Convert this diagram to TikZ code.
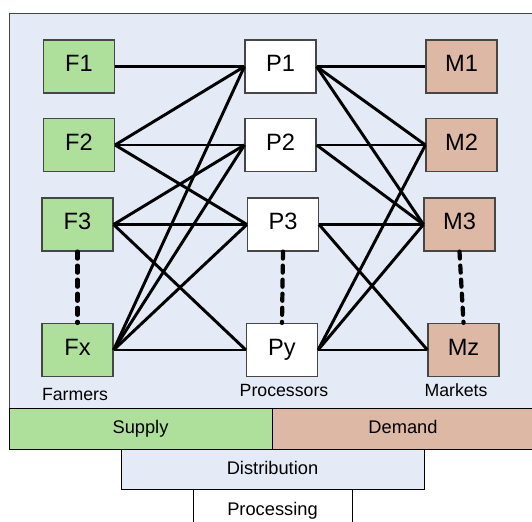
\documentclass[tikz,border=0pt]{standalone}
\usepackage{fontspec}
\setmainfont{Liberation Sans}
\definecolor{bgblue}{RGB}{228,235,247}
\definecolor{farmgreen}{RGB}{174,224,156}
\definecolor{marketbrown}{RGB}{221,184,164}
\definecolor{edgegray}{RGB}{70,70,70}
\tikzset{
  unit/.style={draw=edgegray,line width=0.8pt,minimum width=1.775cm,minimum height=1.325cm,
    inner sep=0pt,text height=0.72em,text depth=0pt,font=\fontsize{16.8}{20}\selectfont},
  farmer/.style={unit,fill=farmgreen},
  processor/.style={unit,fill=white},
  market/.style={unit,fill=marketbrown},
  bar/.style={draw=black,line width=0.6pt,inner sep=0pt,outer sep=0pt,
    text height=0.72em,text depth=0pt,font=\fontsize{13}{15}\selectfont},
  link/.style={line width=2.1pt},
  gap/.style={line width=3pt,dash pattern=on 5pt off 5pt,line cap=round},
  group/.style={font=\fontsize{12.6}{15}\selectfont}
}
\begin{document}
\begin{tikzpicture}
\useasboundingbox (0,0) rectangle (13.3,13.05);
% frame and bars
\fill[bgblue,draw=edgegray,line width=0.6pt] (0.225,2.85) rectangle (13.32,12.725);
\node[bar,fill=white,minimum width=3.975cm,minimum height=1.3cm] (processing) at (6.8125,0.175) {};
\node[bar,fill=bgblue,minimum width=7.575cm,minimum height=1cm] (distribution) at (6.8125,1.325) {Distribution};
\node[bar,fill=farmgreen,minimum width=6.575cm,minimum height=1.025cm] (supply) at (3.5125,2.3375) {Supply};
\node[bar,fill=marketbrown,minimum width=6.55cm,minimum height=1.025cm] (demand) at (10.075,2.3375) {Demand};
\node[font=\fontsize{13}{15}\selectfont] (proclabel) at (6.8125,0.27) {Processing};

% farmers
\node[farmer] (F1) at (1.975,11.3875) {F1};
\node[farmer] (F2) at (1.975,9.425) {F2};
\node[farmer] (F3) at (1.9375,7.4375) {F3};
\node[farmer] (Fx) at (1.9375,4.3) {Fx};
% processors
\node[processor] (P1) at (7.0125,11.3875) {P1};
\node[processor] (P2) at (7.0125,9.425) {P2};
\node[processor] (P3) at (7.075,7.4375) {P3};
\node[processor] (Py) at (7.05,4.3) {Py};
% markets
\node[market] (M1) at (11.5375,11.3875) {M1};
\node[market] (M2) at (11.5375,9.425) {M2};
\node[market] (M3) at (11.4875,7.4375) {M3};
\node[market] (Mz) at (11.5875,4.3) {Mz};

\node[group] (farmers) at (1.875,3.2) {Farmers};
\node[group] (processors) at (7.1,3.3) {Processors};
\node[group] (markets) at (11.4,3.3) {Markets};

% supply side
\draw[link] (F1.east) -- (P1.west);
\draw[link] (F2.east) -- (P1.west);
\draw[link] (F2.east) -- (P2.west);
\draw[link] (F2.east) -- (P3.west);
\draw[link] (F3.east) -- (P2.west);
\draw[link] (F3.east) -- (P3.west);
\draw[link] (F3.east) -- (Py.west);
\draw[link] (Fx.east) -- (P1.west);
\draw[link] (Fx.east) -- (P2.west);
\draw[link] (Fx.east) -- (P3.west);
\draw[link] (Fx.east) -- (Py.west);
% demand side
\draw[link] (P1.east) -- (M1.west);
\draw[link] (P1.east) -- (M2.west);
\draw[link] (P1.east) -- (M3.west);
\draw[link] (P2.east) -- (M2.west);
\draw[link] (P2.east) -- (M3.west);
\draw[link] (P3.east) -- (M3.west);
\draw[link] (P3.east) -- (Mz.west);
\draw[link] (Py.east) -- (M2.west);
\draw[link] (Py.east) -- (M3.west);
\draw[link] (Py.east) -- (Mz.west);

% ellipsis
\draw[gap] (F3.south) -- (Fx.north);
\draw[gap] (P3.south) -- (Py.north);
\draw[gap] (M3.south) -- (Mz.north);
\end{tikzpicture}
\end{document}
